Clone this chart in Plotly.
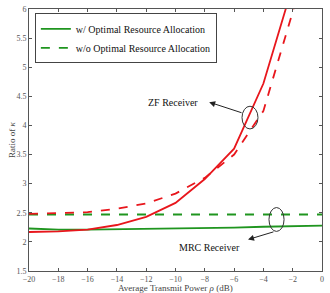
import plotly.graph_objects as go

# ---- data ----
power_db = [-20, -18, -16, -14, -12, -10, -8, -6, -4, -2, 0]
zf_opt = [2.17, 2.18, 2.21, 2.29, 2.43, 2.67, 3.08, 3.60, 4.72, 6.40, 9.00]
zf_noopt = [2.48, 2.49, 2.51, 2.57, 2.66, 2.83, 3.10, 3.50, 4.25, 5.95, 8.00]
mrc_opt = [2.23, 2.21, 2.21, 2.215, 2.22, 2.225, 2.235, 2.245, 2.26, 2.27, 2.28]
mrc_noopt = [2.47, 2.47, 2.47, 2.47, 2.47, 2.47, 2.47, 2.47, 2.47, 2.47, 2.47]

x_ticks = [-20, -18, -16, -14, -12, -10, -8, -6, -4, -2, 0]
y_ticks = [1.5, 2, 2.5, 3, 3.5, 4, 4.5, 5, 5.5, 6]
y_tick_text = ["1.5", "2", "2.5", "3", "3.5", "4", "4.5", "5", "5.5", "6"]

# annotation geometry (data coords)
zf_label = (-10.2, 4.40)
zf_arrow_head = (-7.7, 4.40)
zf_arrow_tail = (-5.39, 4.21)
zf_ellipse = (-5.46, 3.94, -4.37, 4.33)
mrc_label = (-7.65, 1.90)
mrc_arrow_head = (-5.05, 2.04)
mrc_arrow_tail = (-3.21, 2.18)
mrc_ellipse = (-3.62, 2.18, -2.59, 2.59)

RED = "#e8161c"
GREEN = "#1f951f"
SERIF = "Liberation Serif, Times New Roman, serif"

fig = go.Figure()
fig.add_trace(go.Scatter(x=power_db, y=mrc_opt, mode="lines", name="w/ Optimal Resource Allocation",
                         line=dict(color=GREEN, width=1.8)))
fig.add_trace(go.Scatter(x=power_db, y=mrc_noopt, mode="lines", name="w/o Optimal Resource Allocation",
                         line=dict(color=GREEN, width=1.8, dash="dash")))
fig.add_trace(go.Scatter(x=power_db, y=zf_opt, mode="lines", showlegend=False,
                         line=dict(color=RED, width=1.8)))
fig.add_trace(go.Scatter(x=power_db, y=zf_noopt, mode="lines", showlegend=False,
                         line=dict(color=RED, width=1.8, dash="dash")))

for e in (zf_ellipse, mrc_ellipse):
    fig.add_shape(type="circle", xref="x", yref="y", x0=e[0], y0=e[1], x1=e[2], y1=e[3],
                  line=dict(color="#333333", width=1))

fig.add_annotation(x=zf_label[0], y=zf_label[1], text="ZF Receiver", showarrow=False,
                   font=dict(family=SERIF, size=10, color="#111111"))
fig.add_annotation(x=mrc_label[0], y=mrc_label[1], text="MRC Receiver", showarrow=False,
                   font=dict(family=SERIF, size=10, color="#111111"))
for head, tail in ((zf_arrow_head, zf_arrow_tail), (mrc_arrow_head, mrc_arrow_tail)):
    fig.add_annotation(x=head[0], y=head[1], ax=tail[0], ay=tail[1], xref="x", yref="y",
                       axref="x", ayref="y", text="", showarrow=True, arrowhead=2,
                       arrowsize=1.2, arrowwidth=1, arrowcolor="#222222")

fig.add_annotation(xref="paper", yref="paper", x=0.5, y=-0.064, yanchor="middle",
                   text="Average Transmit Power <i>ρ</i> (dB)", showarrow=False,
                   font=dict(family=SERIF, size=9, color="#444444"))
fig.add_annotation(xref="paper", yref="paper", x=-0.058, y=0.5, xanchor="center",
                   text="Ratio of <i>κ</i>", textangle=-90, showarrow=False,
                   font=dict(family=SERIF, size=9, color="#444444"))

axis_common = dict(showline=True, linecolor="#555555", linewidth=1, mirror="ticks",
                   ticks="inside", ticklen=3, tickcolor="#555555", showgrid=False, zeroline=False,
                   tickfont=dict(family=SERIF, size=8, color="#555555"))
fig.update_xaxes(range=[-20, 0], tickvals=x_ticks, ticklabelstandoff=0, **axis_common)
fig.update_yaxes(range=[1.5, 6], tickvals=y_ticks, ticktext=y_tick_text, **axis_common)

fig.update_layout(
    width=330, height=293,
    margin=dict(l=29, r=8, t=5, b=22),
    plot_bgcolor="white", paper_bgcolor="white",
    font=dict(family=SERIF),
    legend=dict(x=0.02, y=0.983, xanchor="left", yanchor="top", bgcolor="white",
                bordercolor="#444444", borderwidth=1, tracegroupgap=0, itemwidth=30,
                font=dict(family=SERIF, size=10, color="#111111")),
)

fig.write_html("out.html")
